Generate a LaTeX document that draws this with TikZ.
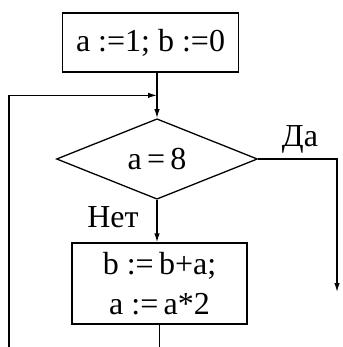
\documentclass[tikz,border=0pt]{standalone}
\usepackage{fontspec}
\setmainfont{Liberation Serif}
\usetikzlibrary{shapes.geometric, arrows.meta, calc}

\begin{document}
\begin{tikzpicture}[x=1pt, y=1pt,
    every node/.style={font=\fontsize{32}{40}\selectfont},
    blok/.style={draw, line width=1.3pt, inner sep=0pt, minimum width=176pt, minimum height=59pt},
    uslovie/.style={draw, diamond, line width=1.3pt, inner sep=0pt, minimum width=201pt, minimum height=76pt},
    liniya/.style={line width=1.3pt},
    strelka/.style={line width=1.3pt, -{Latex[length=9pt, width=5.5pt]}}]
  % --- 1. рамка рисунка ---
  \useasboundingbox (0,0) rectangle (342,-347);

  % --- 2. блоки алгоритма ---
  \node[blok] (init) at (150.5,-42.5) {a :=1; b :=0};
  \node[uslovie] (cond) at (157,-159) {a\,=\,8};
  \node[blok, minimum width=175pt, minimum height=81pt, align=center] (body) at (159.5,-283.5) {b :=\,b+a;\\a :=\,a*2};

  % --- 3. вспомогательные точки ---
  \coordinate (vhod) at ($(init.south -| cond.north)!0.5!(cond.north)$);
  \coordinate (niz_l) at (9,-347);
  \coordinate (niz_b) at (body.south |- niz_l);
  \coordinate (da_ugol) at (337,-159);
  \coordinate (da_kon) at (337,-292);

  % --- 4. стрелки ---
  \draw[strelka] (init.south -| cond.north) -- (cond.north);
  \draw[strelka] (niz_l) |- (vhod);
  \draw[strelka] (cond.east) -- (da_ugol) -- (da_kon);
  \draw[strelka] (cond.south) -- (cond.south |- body.north);
  \draw[liniya] (body.south) -- (niz_b);

  % --- 5. подписи ---
  \node (da) at (300,-139) {Да};
  \node (net) at (113,-217) {Нет};
\end{tikzpicture}
\end{document}
